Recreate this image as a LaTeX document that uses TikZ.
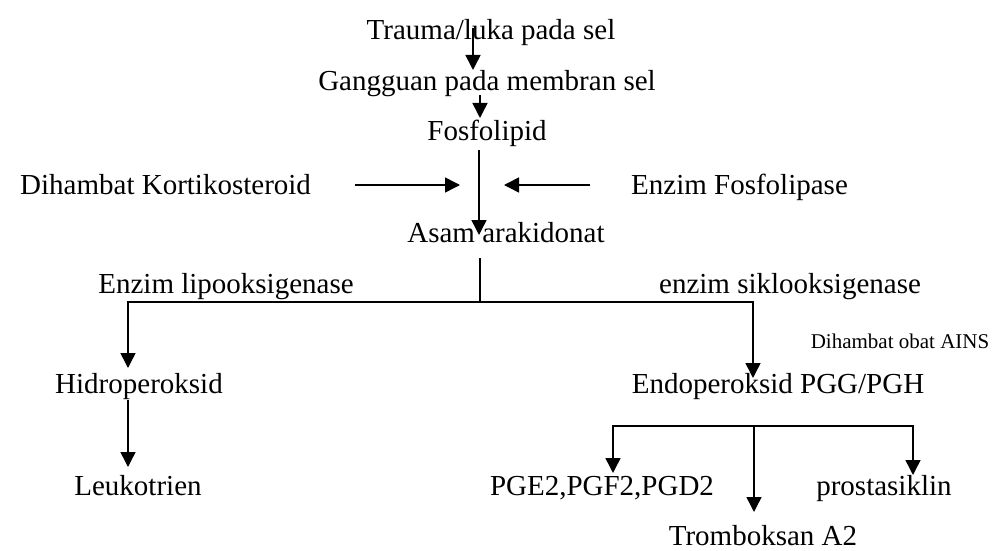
\documentclass[tikz,border=0pt]{standalone}
\usepackage{fontspec}
\setmainfont{Liberation Serif}
\usetikzlibrary{arrows.meta}
\begin{document}
\begin{tikzpicture}[x=1pt,y=-1pt,
 lbl/.style={anchor=base, inner sep=0pt, font=\fontsize{29}{34}\selectfont},
 small/.style={anchor=base, inner sep=0pt, font=\fontsize{21}{25}\selectfont},
 conn/.style={line width=1.5pt},
 arr/.style={conn, -{Triangle[length=15pt,width=15pt]}}]
\useasboundingbox (0,0) rectangle (994,551);
% texts
\node[lbl] (trauma) at (491,40) {Trauma/luka pada sel};
\node[lbl] (gangguan) at (487,91) {Gangguan pada membran sel};
\node[lbl] (fosfo) at (487,140) {Fosfolipid};
\node[lbl, anchor=base west] (kortiko) at (20,194) {Dihambat Kortikosteroid};
\node[lbl, anchor=base west] (fosfolipase) at (631,194) {Enzim Fosfolipase};
\node[lbl] (asam) at (506,242) {Asam arakidonat};
\node[lbl] (lipo) at (226,293) {Enzim lipooksigenase};
\node[lbl] (siklo) at (790,293) {enzim siklooksigenase};
\node[small] (ains) at (900,348) {Dihambat obat AINS};
\node[lbl] (hidro) at (139,393) {Hidroperoksid};
\node[lbl] (endo) at (778,393) {Endoperoksid PGG/PGH};
\node[lbl] (leuko) at (138,495) {Leukotrien};
\node[lbl] (pge) at (602,495) {PGE2,PGF2,PGD2};
\node[lbl] (prosta) at (884,495) {prostasiklin};
\node[lbl] (trombo) at (763,545) {Tromboksan A2};
% connector ends
\coordinate (t1) at (473,28);  \coordinate (g1) at (473,70);
\coordinate (g2) at (480,95);  \coordinate (f1) at (480,118);
\coordinate (f2) at (479,150); \coordinate (a1) at (479,235);
\coordinate (k1) at (355,185); \coordinate (k2) at (460,185);
\coordinate (e1) at (590,185); \coordinate (e2) at (504,185);
\coordinate (a2) at (480,258); \coordinate (j) at (480,302);
\coordinate (h1) at (128,368); \coordinate (en1) at (753,378);
\coordinate (h2) at (128,400); \coordinate (l1) at (128,467);
\coordinate (b0) at (754,426);
\coordinate (p1) at (613,473); \coordinate (pr1) at (913,475);
\coordinate (tr1) at (754,512);
% connectors
\draw[arr] (t1) -- (g1);
\draw[arr] (g2) -- (f1);
\draw[arr] (f2) -- (a1);
\draw[arr] (k1) -- (k2);
\draw[arr] (e1) -- (e2);
\draw[conn] (a2) -- (j);
\draw[arr] (j) -| (h1);
\draw[arr] (j) -| (en1);
\draw[arr] (h2) -- (l1);
\draw[arr] (b0) -| (p1);
\draw[arr] (b0) -| (pr1);
\draw[arr] (b0) -- (tr1);
\end{tikzpicture}
\end{document}
